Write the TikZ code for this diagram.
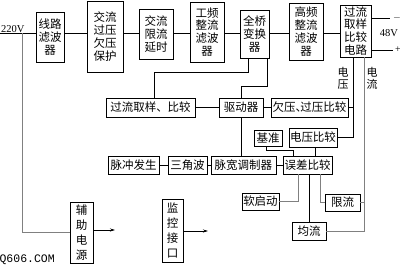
\documentclass[tikz,border=0pt]{standalone}
\usepackage{fontspec}
\setmainfont{Liberation Serif}
\newfontfamily\cjk{Noto Sans CJK SC}
\newfontfamily\mono{Liberation Mono}
\usetikzlibrary{arrows.meta}
\begin{document}
\begin{tikzpicture}[x=1pt,y=-1pt,
  bx/.style={draw,line width=0.8pt,inner sep=0pt,font=\cjk\fontsize{11.5}{12.8}\selectfont,align=center},
  ln/.style={line width=0.7pt},
  gln/.style={line width=0.7pt,black!50},
  lbl/.style={inner sep=0pt,font=\cjk\fontsize{11}{12}\selectfont,align=center},
  arr/.style={ln,-{Stealth[length=5pt,width=3pt]}}]
\useasboundingbox (0,0) rectangle (400,265);
% top row
\node[bx,minimum width=28pt,minimum height=50pt] (lb) at (50,37) {线路\\滤波\\器};
\node[bx,minimum width=36pt,minimum height=71pt] (ac) at (105,36.5) {交流\\过压\\欠压\\保护};
\node[bx,minimum width=34pt,minimum height=50pt] (xl) at (156,34) {交流\\限流\\延时};
\node[bx,minimum width=34pt,minimum height=60pt] (gp) at (207,32) {工频\\整流\\滤波\\器};
\node[bx,minimum width=29pt,minimum height=48pt] (qq) at (254.5,34) {全桥\\变换\\器};
\node[bx,minimum width=34pt,minimum height=57pt] (gf) at (306,31.5) {高频\\整流\\滤波\\器};
\node[bx,minimum width=31pt,minimum height=52pt] (gl) at (355.5,31) {过流\\取样\\比较\\电路};
% second row
\node[bx,minimum width=89pt,minimum height=19pt] (gq) at (150.5,107.5) {过流取样、比较};
\node[bx,minimum width=44pt,minimum height=19pt] (qd) at (241,107.5) {驱动器};
\node[bx,minimum width=77pt,minimum height=19pt] (qy) at (309.5,107.5) {欠压、\kern-0.6em过压比较};
% third row
\node[bx,minimum width=28pt,minimum height=16pt] (jz) at (268,138) {基准};
\node[bx,minimum width=48pt,minimum height=19pt] (dy) at (313,137.5) {电压比较};
% fourth row
\node[bx,minimum width=51pt,minimum height=18pt] (mc) at (133.5,165) {脉冲发生};
\node[bx,minimum width=39pt,minimum height=18pt] (sj) at (187.5,165) {三角波};
\node[bx,minimum width=65pt,minimum height=18pt] (mk) at (243.5,165) {脉宽调制器};
\node[bx,minimum width=49pt,minimum height=18pt] (wc) at (307.5,165) {误差比较};
% lower
\node[bx,minimum width=37pt,minimum height=17pt] (rq) at (260.5,201.5) {软启动};
\node[bx,minimum width=35pt,minimum height=17pt] (xd) at (342.5,202.5) {限流};
\node[bx,minimum width=34pt,minimum height=18pt] (jl) at (309,231) {均流};
\node[bx,minimum width=23pt,minimum height=61pt,font=\cjk\fontsize{11.5}{15}\selectfont] (fz) at (81.5,232.5) {辅\\助\\电\\源};
\node[bx,minimum width=21pt,minimum height=63pt,font=\cjk\fontsize{11.5}{15}\selectfont] (jk) at (172.5,230.5) {监\\控\\接\\口};
% labels
\node[inner sep=0pt,anchor=base west,font=\fontsize{10.5}{12}\selectfont] (v220) at (1,32) {220V};
\node[inner sep=0pt,font=\fontsize{10.5}{12}\selectfont] (v48) at (389,33) {48V};
\node[inner sep=0pt,font=\fontsize{10}{12}\selectfont] (mn) at (397,18) {$-$};
\node[inner sep=0pt,font=\fontsize{10}{12}\selectfont] (pl) at (398,50) {+};
\node[lbl] (ldy) at (343,78) {电\\压};
\node[lbl] (ldl) at (372,78) {电\\流};
\node[inner sep=0pt,anchor=base east,font=\mono\fontsize{11.5}{12}\selectfont] (wm) at (55,262) {Q606.COM};
% coordinates
\coordinate (m) at (0,33);
\coordinate (in) at (0,33);
\coordinate (br) at (22,33);
\coordinate (om) at (390,18);
\coordinate (op) at (393,50);
\coordinate (vu) at ([xshift=-2.5pt]gl.south);
\coordinate (iu) at ([xshift=8.5pt]gl.south);
\coordinate (fa) at (115,230);
\coordinate (ja) at (208,231);
% main power path
\draw[ln] (in) -- (lb.west |- m);
\draw[ln] (lb.east |- m) -- (ac.west |- m);
\draw[ln] (ac.east |- m) -- (xl.west |- m);
\draw[ln] (xl.east |- m) -- (gp.west |- m);
\draw[ln] (gp.east |- m) -- (qq.west |- m);
\draw[ln] (qq.east |- m) -- (gf.west |- m);
\draw[ln] (gf.east |- m) -- (gl.west |- m);
\draw[ln] (gl.east |- om) -- (om);
\draw[ln] (gl.east |- op) -- (op);
% aux supply
\draw[gln] (br) |- (fz.west);
\draw[arr] (fz.east |- fa) -- (fa);
\draw[arr] (jk.east |- ja) -- (ja);
% control
\draw[ln] ([xshift=-6.5pt]qq.south) -- ++(0,14) -| ([xshift=3.5pt]gq.north);
\draw[ln] ([xshift=12.5pt]qq.south) -- ++(0,28) -| (qd.north);
\draw[ln] (gq.east) -- (qd.west);
\draw[ln] (qd.east) -- (qy.west);
\draw[ln] (qd.south) -- (qd.south |- mk.north);
\draw[ln] (mc.east) -- (sj.west);
\draw[ln] (sj.east) -- (mk.west);
\draw[ln] (mk.east) -- (wc.west);
\draw[ln] ([xshift=-2pt]jz.south) -- ++(0,4) -| ([xshift=-14.5pt]wc.north);
\draw[ln] ([xshift=2pt]dy.south) -- ([xshift=2pt]dy.south |- wc.north);
\draw[ln] (vu) |- (dy.east);
\draw[ln] (qy.east) -- (qy.east -| vu);
\draw[gln] (iu) |- (jl.east);
\draw[gln] (xd.east) -- (xd.east -| iu);
\draw[gln] ([xshift=-9.5pt]wc.south) |- (rq.east);
\draw[ln] (jl.north |- wc.south) -- (jl.north);
\draw[gln] ([xshift=12.5pt]wc.south) |- (xd.west);
\end{tikzpicture}
\end{document}
